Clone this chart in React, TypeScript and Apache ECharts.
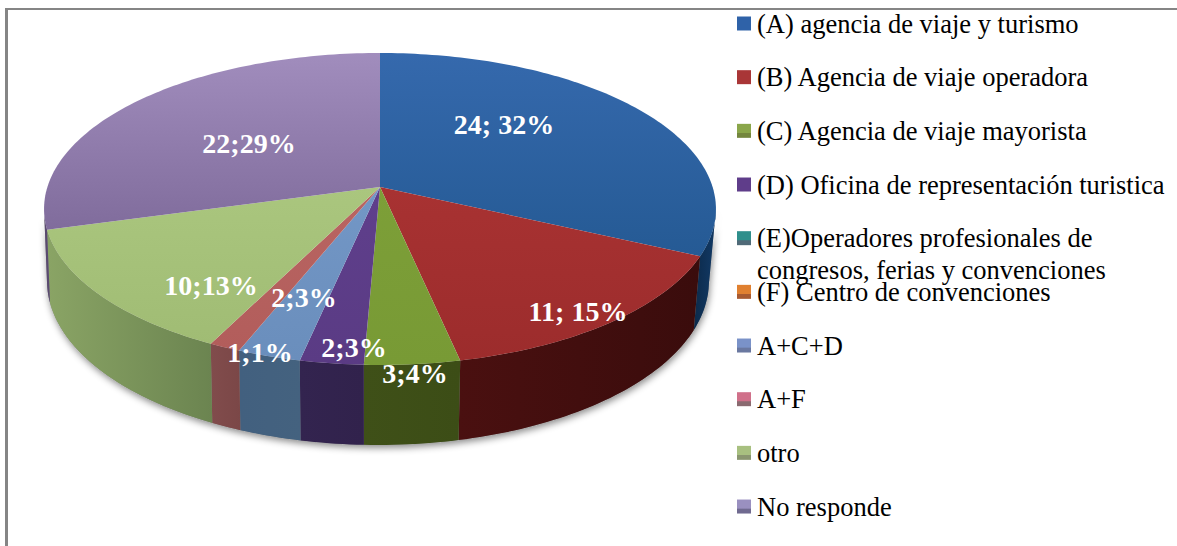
import React, { useEffect, useRef } from "react";
import * as echarts from "echarts";

const categories = [
  "(A) agencia de viaje y turismo",
  "(B) Agencia de viaje operadora",
  "(C) Agencia de viaje mayorista",
  "(D) Oficina de representación turistica",
  "(E)Operadores profesionales de",
  "(F) Centro de convenciones",
  "A+C+D",
  "A+F",
  "otro",
  "No responde",
];
const secondLine = "congresos, ferias y convenciones";
const values = [24, 11, 3, 2, 0, 0, 2, 1, 10, 22];
const dataLabels = ["24; 32%", "11; 15%", "3;4%", "2;3%", "", "", "2;3%", "1;1%", "10;13%", "22;29%"];

const topFrom = ["#3569ad", "#a83232", "#7d9f38", "#5f3f8c", "#2f8f9b", "#e07a20", "#7397c6", "#b96562", "#aac67e", "#a18dbd"];
const topTo = ["#255a94", "#9c2c2c", "#789a35", "#5a3b84", "#2a8590", "#d07018", "#6a8ebc", "#b25d5b", "#a0bc74", "#806c9c"];
const wallFrom = ["#0c2a4a", "#4a1010", "#3f5018", "#33244f", "#1c5a62", "#8a4a10", "#42607f", "#814c4c", "#8aa465", "#5a4a70"];
const wallTo = ["#123a66", "#3a0c0c", "#3c4d16", "#31224c", "#1c5a62", "#8a4a10", "#44627f", "#7b4747", "#6b8450", "#5a4a70"];
const legendMain = ["#2f62a8", "#a93637", "#8aa64a", "#5f3d8a", "#2f8f8c", "#e08030", "#7a92c8", "#d0708a", "#a8c080", "#9a90c0"];
const legendStripe = ["#2f62a8", "#a93637", "#74863e", "#5f3d8a", "#506a78", "#a85a30", "#6a78a0", "#8a6a70", "#8a9670", "#706a90"];

// layout of the perspective disc
const CX = 380, APEX_Y = 187, A = 332.6, B = 152.9, K = 0.141;
const total = values.reduce((s, v) => s + v, 0);
const rad = (v: number) => (v / total) * Math.PI * 2;

const rimTop = (t: number): [number, number] => {
  const u = Math.sin(t), v = Math.cos(t), d = 1 + K * v;
  return [CX + (A * u) / d, APEX_Y - (B * v) / d];
};
const rimBottom = (t: number): [number, number] => {
  const [x] = rimTop(t);
  const xb = x <= CX ? CX - (CX - x) * 0.991 : CX + (x - CX) * 0.98;
  const q = (xb - 378) / 331;
  return [xb, 281 + 164 * Math.sqrt(Math.max(0, 1 - q * q))];
};
const FRONT_A = Math.acos(-K), FRONT_B = Math.PI * 2 - FRONT_A;

const labelAt: [number, number][] = [
  [504, 124], [578, 311], [415, 373], [354, 347], [0, 0], [0, 0], [304, 297], [260, 352], [211, 285], [249, 143],
];

const vGrad = (a: string, b: string) =>
  new echarts.graphic.LinearGradient(0, 0, 0, 1, [{ offset: 0, color: a }, { offset: 1, color: b }]);
const hGrad = (a: string, b: string) =>
  new echarts.graphic.LinearGradient(0, 0, 1, 0, [{ offset: 0, color: a }, { offset: 1, color: b }]);
const iconGrad = (a: string, b: string) =>
  new echarts.graphic.LinearGradient(0, 0, 0, 1, [
    { offset: 0, color: a }, { offset: 0.62, color: a }, { offset: 0.68, color: b }, { offset: 1, color: b },
  ]);

const arcPoints = (f: (t: number) => [number, number], a: number, b: number) => {
  const n = Math.max(2, Math.ceil((b - a) / 0.02));
  const pts: [number, number][] = [];
  for (let i = 0; i <= n; i++) pts.push(f(a + ((b - a) * i) / n));
  return pts;
};

const makeSeries = () => {
  let acc = 0;
  return categories.map((name, i) => {
    const start = rad(acc);
    acc += values[i];
    const startAngle = start;
    return {
      type: "custom",
      name,
      coordinateSystem: "none",
      silent: true,
      z: 3,
      itemStyle: { color: legendMain[i] },
      data: [[values[i]]],
      renderItem: (_p: any, api: any) => {
        const end = startAngle + rad(api.value(0));
        const children: any[] = [];
        if (end <= startAngle) return { type: "group", children };
        const wa = Math.max(startAngle, FRONT_A), wb = Math.min(end, FRONT_B);
        if (wb > wa) {
          children.push({
            type: "polygon",
            shape: { points: [...arcPoints(rimTop, wa, wb), ...arcPoints(rimBottom, wa, wb).reverse()] },
            style: { fill: hGrad(wallFrom[i], wallTo[i]), stroke: "none" },
          });
        }
        children.push({
          type: "polygon",
          shape: { points: [[CX, APEX_Y], ...arcPoints(rimTop, startAngle, end)] },
          style: { fill: vGrad(topFrom[i], topTo[i]), stroke: "none" },
        });
        return { type: "group", children };
      },
    };
  });
};

const labelSeries = {
  type: "custom",
  name: "labels",
  coordinateSystem: "none",
  silent: true,
  z: 5,
  data: dataLabels.map((s, i) => [i, s]),
  renderItem: (_p: any, api: any) => {
    const i = api.value(0);
    const text = dataLabels[i];
    if (!text) return { type: "group", children: [] };
    return {
      type: "text",
      x: labelAt[i][0],
      y: labelAt[i][1],
      style: {
        text,
        fill: "#ffffff",
        fontFamily: "Liberation Serif",
        fontWeight: "bold",
        fontSize: 28,
        align: "center",
        verticalAlign: "middle",
      },
    };
  },
};

const shadowSeries = {
  type: "custom",
  name: "shadow",
  coordinateSystem: "none",
  silent: true,
  z: 1,
  data: [[total]],
  renderItem: () => ({
    type: "polygon",
    shape: {
      points: [...arcPoints(rimTop, FRONT_A, FRONT_B), ...arcPoints(rimBottom, FRONT_A, FRONT_B).reverse()],
    },
    style: {
      fill: "#8a8a8a",
      stroke: "none",
      shadowBlur: 7,
      shadowColor: "rgba(0,0,0,0.45)",
      shadowOffsetX: 1,
      shadowOffsetY: 3,
    },
  }),
};

export default function App() {
  const ref = useRef<HTMLDivElement>(null);
  useEffect(() => {
    document.body.style.margin = "0";
    const chart = echarts.init(ref.current!, undefined, { renderer: "svg" });
    chart.setOption({
      animation: false,
      backgroundColor: "#ffffff",
      legend: {
        orient: "vertical",
        left: 737,
        top: 10,
        padding: 0,
        itemWidth: 14,
        itemHeight: 14,
        itemGap: 26.67,
        icon: "rect",
        selectedMode: false,
        textStyle: { fontFamily: "Liberation Serif", fontSize: 26.5, color: "#000000", lineHeight: 24, padding: [0, 0, 0, 1] },
        data: categories.map((name, i) => ({
          name,
          itemStyle: { color: iconGrad(legendMain[i], legendStripe[i]) },
        })),
      },
      graphic: [
        { type: "rect", shape: { x: 5, y: 8, width: 1172, height: 2 }, style: { fill: "#858585" }, silent: true },
        { type: "rect", shape: { x: 5, y: 8, width: 3, height: 538 }, style: { fill: "#858585" }, silent: true },
        {
          type: "text",
          x: 757,
          y: 270,
          silent: true,
          style: {
            text: secondLine,
            fontFamily: "Liberation Serif",
            fontSize: 26.5,
            fill: "#000000",
            verticalAlign: "middle",
          },
        },
      ],
      series: [shadowSeries, ...makeSeries(), labelSeries],
    });
    return () => chart.dispose();
  }, []);
  return <div ref={ref} style={{ width: 1177, height: 546 }} />;
}
